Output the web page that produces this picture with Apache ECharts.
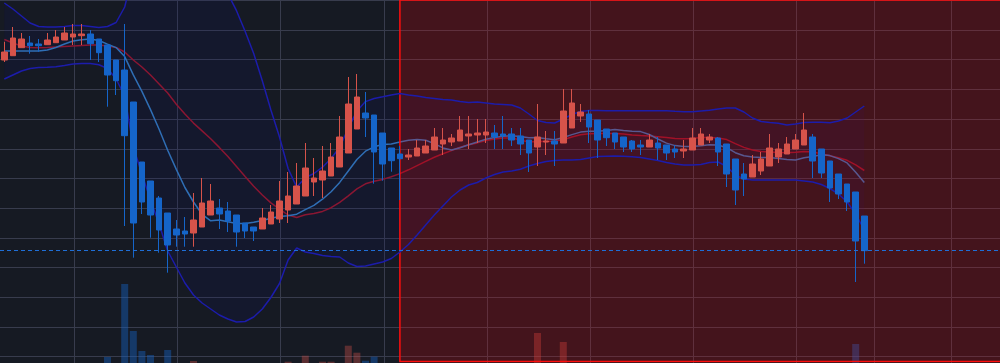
<!DOCTYPE html>
<html>
<head>
<meta charset="utf-8">
<script src="https://cdn.jsdelivr.net/npm/echarts/dist/echarts.min.js"></script>
<style>
html,body{margin:0;padding:0;background:#161a23;}
#chart{width:1000px;height:363px;}
</style>
</head>
<body>
<div id="chart"></div>
<script>
// ---- data ----
const categories = Array.from({length: 117}, (_, i) => 'D' + (i + 1));
const gridLineIdx = [8, 20, 32, 44, 56, 68, 80, 92, 101, 110];
const shadeStart = 46;

const openArr = [36.03,36.116,36.276,36.37,36.35,36.336,36.376,36.43,36.49,36.516,
36.55,36.45,36.33,36.03,35.83,35.19,33.99,33.61,33.27,32.97,
32.65,32.61,32.57,32.69,32.93,33.07,33.01,32.93,32.77,32.69,
32.65,32.75,32.85,33.03,33.15,33.31,33.59,33.63,33.71,33.89,
34.17,34.65,34.97,34.93,34.57,34.27,34.15,34.09,34.11,34.17,
34.23,34.35,34.39,34.41,34.51,34.53,34.53,34.57,34.55,34.55,
34.51,34.43,34.29,34.39,34.41,34.37,34.67,34.91,34.95,34.83,
34.65,34.57,34.49,34.41,34.33,34.29,34.37,34.33,34.25,34.21,
34.23,34.33,34.43,34.47,34.35,34.05,33.75,33.69,33.81,33.91,
34.09,34.15,34.25,34.33,34.49,34.25,34.01,33.75,33.55,33.39,
32.91];
const closeArr = [36.19,36.47,36.45,36.316,36.316,36.43,36.49,36.57,36.55,36.55,
36.356,36.176,35.73,35.616,34.516,32.77,33.19,32.93,32.63,32.33,
32.53,32.55,32.83,33.17,33.21,32.95,32.81,32.59,32.61,32.61,
32.87,32.99,33.21,33.31,33.51,33.87,33.67,33.81,34.09,34.49,
35.15,35.29,34.87,34.19,33.95,34.016,34.056,34.13,34.27,34.31,
34.49,34.43,34.47,34.63,34.55,34.57,34.59,34.49,34.51,34.43,
34.35,34.17,34.49,34.41,34.35,35.01,35.17,34.99,34.69,34.43,
34.476,34.39,34.29,34.25,34.29,34.43,34.27,34.17,34.19,34.25,
34.47,34.55,34.49,34.19,33.75,33.43,33.65,33.95,34.05,34.27,
34.25,34.35,34.43,34.63,34.01,33.77,33.47,33.35,33.19,32.41,
32.216];
const lowArr = [35.99,36.116,36.276,36.156,36.196,36.336,36.376,36.43,36.33,36.33,
36.03,35.99,35.096,35.33,32.71,32.076,32.95,32.476,32.176,31.776,
32.296,32.296,32.296,32.69,32.93,32.65,32.59,32.296,32.47,32.41,
32.65,32.75,32.77,32.77,33.15,33.31,33.31,33.27,33.71,33.89,
34.17,34.65,34.49,33.556,33.616,33.796,33.23,34.03,34.11,34.17,
34.23,34.13,34.31,34.41,34.25,34.37,34.37,34.25,34.25,34.31,
34.13,33.79,33.91,34.13,33.91,34.37,34.67,34.79,34.37,34.07,
34.31,34.25,34.19,34.19,34.13,34.29,34.03,34.03,34.07,34.07,
34.23,34.33,34.37,33.91,33.49,33.13,33.31,33.69,33.73,33.91,
33.97,34.15,34.25,34.33,33.67,33.67,33.19,33.25,33.01,31.59,
31.956];
const highArr = [36.396,36.69,36.57,36.51,36.45,36.57,36.63,36.69,36.75,36.75,
36.63,36.45,36.33,36.03,36.75,35.19,33.99,33.61,33.31,32.97,
32.83,32.89,33.37,33.67,33.55,33.25,33.19,32.93,32.77,32.69,
33.07,33.13,33.61,33.79,33.97,34.37,34.07,34.31,34.37,34.91,
35.69,35.75,35.39,34.93,34.57,34.27,34.31,34.25,34.43,34.43,
34.67,34.67,34.55,34.91,34.91,34.85,34.85,34.73,34.91,34.67,
34.67,34.43,35.15,34.61,34.61,35.45,35.45,35.15,35.03,34.83,
34.65,34.57,34.49,34.43,34.43,34.55,34.49,34.33,34.33,34.43,
34.67,34.67,34.55,34.49,34.35,34.05,33.97,34.13,34.19,34.55,
34.37,34.49,34.55,34.97,34.55,34.25,34.01,33.75,33.55,33.39,
32.91];
const volumeArr = [0,0,0,0,0,0,0,0,0,0,
0,0,600,0,7900,3200,1200,800,0,1300,
0,0,200,0,0,0,0,0,0,0,
0,0,0,130,0,730,0,130,130,0,
1730,1030,230,630,0,0,0,0,0,0,
0,0,0,0,0,0,0,0,0,0,
0,0,3000,0,0,2100,0,0,0,0,
0,0,0,0,0,0,0,0,0,0,
0,0,0,0,0,0,0,0,0,0,
0,0,0,0,0,0,0,0,0,1900,
0];
const ma10Arr = [36.21,36.21,36.21,36.21,36.21,36.23,36.28,36.35,36.41,36.434,
36.45,36.42,36.348,36.278,36.098,35.732,35.402,35.038,34.646,34.224,
33.842,33.48,33.19,32.944,32.814,32.832,32.794,32.76,32.758,32.786,
32.82,32.864,32.902,32.916,32.946,33.038,33.124,33.246,33.394,33.582,
33.81,34.04,34.206,34.294,34.338,34.352,34.392,34.424,34.442,34.424,
34.358,34.272,34.232,34.276,34.336,34.39,34.444,34.48,34.504,34.516,
34.502,34.476,34.478,34.456,34.436,34.48,34.538,34.588,34.606,34.606,
34.618,34.64,34.62,34.604,34.598,34.54,34.45,34.368,34.318,34.3,
34.3,34.316,34.336,34.33,34.276,34.176,34.114,34.092,34.078,34.08,
34.058,34.038,34.032,34.076,34.102,34.136,34.118,34.058,33.972,33.786,
33.582];
const ma20Arr = [36.44,36.37,36.31,36.28,36.276,36.28,36.29,36.30,36.31,36.32,
36.33,36.33,36.31,36.28,36.19,36.03,35.89,35.73,35.55,35.37,
35.146,34.95,34.768,34.612,34.456,34.282,34.098,33.90,33.702,33.506,
33.33,33.172,33.046,32.93,32.88,32.934,32.958,33.002,33.076,33.184,
33.314,33.452,33.554,33.604,33.642,33.696,33.758,33.834,33.918,34.002,
34.084,34.156,34.218,34.284,34.336,34.372,34.418,34.452,34.472,34.47,
34.43,34.39,34.40,34.40,34.41,34.436,34.49,34.534,34.554,34.56,
34.56,34.558,34.55,34.53,34.518,34.51,34.494,34.478,34.462,34.454,
34.46,34.478,34.478,34.468,34.438,34.358,34.282,34.23,34.198,34.19,
34.178,34.176,34.184,34.202,34.188,34.156,34.116,34.074,34.024,33.932,
33.82];
const bollUpperArr = [37.17,37.05,36.91,36.77,36.70,36.69,36.69,36.70,36.72,36.72,
36.70,36.68,36.70,36.78,37.09,37.79,38.03,38.21,38.33,38.43,
38.45,38.37,38.24,38.08,37.88,37.638,37.354,37.016,36.606,36.16,
35.614,35.03,34.49,33.86,33.488,33.676,33.76,33.886,34.06,34.284,
34.666,35.008,35.198,35.26,35.294,35.33,35.36,35.33,35.31,35.28,
35.26,35.24,35.23,35.20,35.18,35.19,35.17,35.15,35.14,35.13,
35.07,34.95,34.82,34.78,34.77,34.85,34.94,35.00,35.02,35.02,
35.016,35.016,35.016,35.016,35.016,35.016,35.016,35.016,35.004,34.996,
34.996,35.01,35.024,35.05,35.07,35.07,34.99,34.87,34.80,34.78,
34.764,34.73,34.75,34.78,34.784,34.784,34.776,34.81,34.87,34.99,
35.11];
const bollLowerArr = [35.65,35.73,35.81,35.86,35.88,35.884,35.896,35.92,35.95,35.96,
35.96,35.936,35.86,35.65,35.31,34.29,33.75,33.23,32.75,32.21,
31.89,31.57,31.33,31.17,31.05,30.93,30.85,30.79,30.80,30.89,
31.05,31.28,31.56,32.03,32.27,32.19,32.16,32.12,32.10,32.09,
31.97,31.90,31.91,31.95,31.99,32.06,32.19,32.34,32.53,32.73,
32.93,33.11,33.29,33.43,33.53,33.58,33.67,33.74,33.79,33.81,
33.844,33.91,33.96,34.00,34.02,34.03,34.03,34.04,34.07,34.10,
34.106,34.11,34.104,34.094,34.08,34.05,34.02,33.98,33.95,33.93,
33.93,33.94,33.98,33.99,33.90,33.73,33.65,33.63,33.63,33.63,
33.63,33.63,33.63,33.61,33.59,33.54,33.46,33.35,33.19,32.95,
32.63];

// ---- derived tables for the library ----
const UP = '#d6534a', DOWN = '#1565c9';
const BAND = '#1c1cab';
const candleData = openArr.map((o, i) => [o, closeArr[i], lowArr[i], highArr[i]]);
const volData = volumeArr.map((v, i) => ({
  value: v,
  itemStyle: {color: closeArr[i] >= openArr[i] ? 'rgba(214,83,74,0.36)' : 'rgba(21,101,201,0.42)'}
}));
const bandWidthArr = bollUpperArr.map((u, i) => u - bollLowerArr[i]);
const lastClose = closeArr[closeArr.length - 1];

const hidden = {axisLine:{show:false}, axisTick:{show:false}, axisLabel:{show:false}, splitLine:{show:false}};
const GRIDC = '#383c4d';
const gridBase = {outerBoundsMode: 'none', containLabel: false};

const chart = echarts.init(document.getElementById('chart'), null, {renderer: 'canvas'});
chart.setOption({
  backgroundColor: '#161a23',
  animation: false,
  grid: [
    Object.assign({left: 0, top: 0, width: 1006.2, height: 361.5}, gridBase),
    Object.assign({left: 0, top: 0, width: 1006.2, height: 363}, gridBase),
    Object.assign({left: 0, top: 0.3, width: 1000, height: 356.3}, gridBase),
    Object.assign({left: 5.5, top: 0, width: 1006.2, height: 363}, gridBase)
  ],
  xAxis: [
    Object.assign({type: 'category', gridIndex: 0, data: categories, boundaryGap: true}, hidden),
    Object.assign({type: 'category', gridIndex: 1, data: categories, boundaryGap: true}, hidden),
    Object.assign({type: 'value', gridIndex: 2, min: 0, max: 1}, hidden),
    {type: 'category', gridIndex: 3, data: categories, boundaryGap: true,
     axisLine: {show: false}, axisTick: {show: false}, axisLabel: {show: false},
     splitLine: {show: true, interval: (idx) => gridLineIdx.includes(idx),
                 lineStyle: {color: GRIDC, width: 1}}}
  ],
  yAxis: [
    Object.assign({type: 'value', gridIndex: 0, min: 30, max: 37.23}, hidden),
    Object.assign({type: 'value', gridIndex: 1, min: 0, max: 36300}, hidden),
    {type: 'value', gridIndex: 2, min: 0, max: 12, interval: 1,
     axisLine: {show: false}, axisTick: {show: false}, axisLabel: {show: false},
     splitLine: {show: true, lineStyle: {color: GRIDC, width: 1}}},
    Object.assign({type: 'value', gridIndex: 3, min: 0, max: 1}, hidden)
  ],
  series: [
    {
      name: 'Volume', type: 'bar', xAxisIndex: 1, yAxisIndex: 1,
      data: volData, barWidth: 7, z: 1, silent: true
    },
    {
      name: 'BOLL_BASE', type: 'line', xAxisIndex: 0, yAxisIndex: 0,
      data: bollLowerArr, stack: 'boll', symbol: 'none', z: 1, silent: true,
      lineStyle: {opacity: 0}
    },
    {
      name: 'BOLL_FILL', type: 'line', xAxisIndex: 0, yAxisIndex: 0,
      data: bandWidthArr, stack: 'boll', symbol: 'none', z: 1, silent: true,
      lineStyle: {opacity: 0},
      areaStyle: {color: 'rgba(8,8,120,0.16)'}
    },
    {
      name: 'MA20', type: 'line', xAxisIndex: 0, yAxisIndex: 0,
      data: ma20Arr, symbol: 'none', z: 1, silent: true,
      lineStyle: {color: '#8a1632', width: 1.5},
      markArea: {
        silent: true, z: 2,
        itemStyle: {color: 'rgba(255,0,0,0.2)', borderColor: '#ff0d0d', borderWidth: 1.5, opacity: 1},
        data: [[{xAxis: shadeStart}, {xAxis: categories.length - 1}]]
      }
    },
    {
      name: 'MA10', type: 'line', xAxisIndex: 0, yAxisIndex: 0,
      data: ma10Arr, symbol: 'none', z: 1, silent: true,
      lineStyle: {color: '#2f6eb5', width: 1.5}
    },
    {
      name: 'BOLL_UP', type: 'line', xAxisIndex: 0, yAxisIndex: 0,
      data: bollUpperArr, symbol: 'none', z: 3, silent: true,
      lineStyle: {color: BAND, width: 1.5}
    },
    {
      name: 'BOLL_DN', type: 'line', xAxisIndex: 0, yAxisIndex: 0,
      data: bollLowerArr, symbol: 'none', z: 3, silent: true,
      lineStyle: {color: BAND, width: 1.5}
    },
    {
      name: 'K', type: 'candlestick', xAxisIndex: 0, yAxisIndex: 0,
      data: candleData, barWidth: 6, z: 4, silent: true,
      itemStyle: {color: UP, color0: DOWN, borderColor: UP, borderColor0: DOWN, borderWidth: 1},
      markLine: {
        silent: true, symbol: ['none', 'none'], z: 5,
        label: {show: false},
        lineStyle: {color: '#1f6fd8', type: [4, 3], width: 1},
        data: [{yAxis: lastClose}]
      }
    }
  ]
});
</script>
</body>
</html>
